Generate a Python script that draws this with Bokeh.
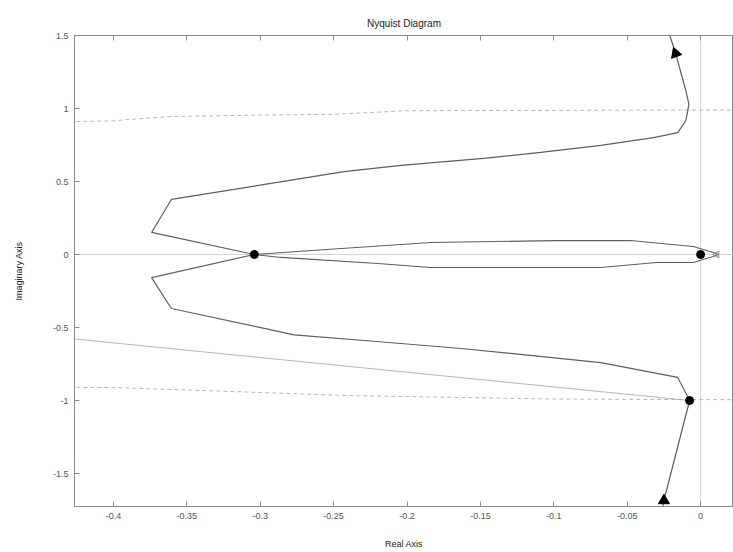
from bokeh.plotting import figure
from bokeh.models import Range1d, LinearAxis, FixedTicker, Span
from bokeh.embed import file_html
from bokeh.resources import INLINE

# Axis ticks
x_ticks = [-0.4, -0.35, -0.3, -0.25, -0.2, -0.15, -0.1, -0.05, 0.0]
x_tick_labels = ["-0.4", "-0.35", "-0.3", "-0.25", "-0.2", "-0.15", "-0.1", "-0.05", "0"]
y_ticks = [-1.5, -1.0, -0.5, 0.0, 0.5, 1.0, 1.5]
y_tick_labels = ["-1.5", "-1", "-0.5", "0", "0.5", "1", "1.5"]

# Main Nyquist branch (upper, positive imaginary)
upper_re = [-0.022, -0.021, -0.017, -0.010, -0.008, -0.010, -0.0156, -0.032, -0.068,
            -0.109, -0.148, -0.204, -0.243, -0.3605, -0.374, -0.304]
upper_im = [1.60, 1.50, 1.377, 1.12, 1.03, 0.918, 0.835, 0.80, 0.747,
            0.70, 0.658, 0.61, 0.568, 0.377, 0.151, 0.0]

# Main Nyquist branch (lower, negative imaginary)
lower_re = [-0.304, -0.374, -0.3605, -0.277, -0.229, -0.163, -0.068, -0.0156, -0.0075, -0.025, -0.027]
lower_im = [0.0, -0.158, -0.37, -0.55, -0.589, -0.644, -0.74, -0.842, -1.0, -1.685, -1.80]

# Inner lens loop
lens_up_re = [-0.304, -0.265, -0.184, -0.10, -0.048, -0.005, 0.008, 0.012]
lens_up_im = [0.0, 0.027, 0.082, 0.095, 0.096, 0.055, 0.015, 0.0]
lens_lo_re = [-0.304, -0.286, -0.22, -0.184, -0.068, -0.03, -0.005, 0.008, 0.012]
lens_lo_im = [0.0, -0.02, -0.062, -0.089, -0.089, -0.055, -0.055, -0.015, 0.0]

# Light guide lines
dash_up_re = [-0.43, -0.40, -0.39, -0.36, -0.30, -0.25, -0.20, 0.03]
dash_up_im = [0.91, 0.915, 0.925, 0.945, 0.955, 0.96, 0.985, 0.99]
dash_lo_re = [-0.43, -0.40, -0.30, -0.24, -0.10, 0.03]
dash_lo_im = [-0.91, -0.911, -0.945, -0.966, -0.99, -0.995]
slope_re = [-0.43, -0.0075]
slope_im = [-0.575, -1.0]

# Markers
dot_re = [-0.304, 0.0, -0.0075]
dot_im = [0.0, 0.0, -1.0]
arrow_re = [-0.017, -0.025]
arrow_im = [1.377, -1.685]
arrow_ang = [0.35, 0.0]
tip_re = [0.011]
tip_im = [0.0]

p = figure(width=733, height=552, output_backend="svg", toolbar_location=None,
           x_range=Range1d(-0.4265, 0.0224), y_range=Range1d(-1.726, 1.5),
           min_border_left=74, min_border_right=0, min_border_top=35, min_border_bottom=46,
           title="Nyquist Diagram")
p.grid.visible = False
p.background_fill_color = "white"
p.border_fill_color = "white"
p.outline_line_color = "#8a8a8a"
p.outline_line_width = 1

p.title.align = "center"
p.title.text_font = "Liberation Sans"
p.title.text_font_size = "10px"
p.title.text_font_style = "normal"
p.title.text_color = "#222222"
p.title.standoff = 13

for ax in (p.xaxis[0], p.yaxis[0]):
    ax.major_tick_in = 5
    ax.major_tick_out = 0
    ax.minor_tick_line_color = None
    ax.axis_line_color = "#8a8a8a"
    ax.major_tick_line_color = "#8a8a8a"
    ax.major_label_text_font = "Liberation Sans"
    ax.major_label_text_font_size = "9px"
    ax.major_label_text_color = "#555555"
    ax.axis_label_text_font = "Liberation Sans"
    ax.axis_label_text_font_size = "9px"
    ax.axis_label_text_font_style = "normal"
    ax.axis_label_text_color = "#222222"

p.xaxis[0].ticker = FixedTicker(ticks=x_ticks)
p.xaxis[0].major_label_overrides = dict(zip(x_ticks, x_tick_labels))
p.xaxis[0].axis_label = "Real Axis"
p.xaxis[0].major_label_standoff = 6
p.xaxis[0].axis_label_standoff = 17
p.yaxis[0].ticker = FixedTicker(ticks=y_ticks)
p.yaxis[0].major_label_overrides = dict(zip(y_ticks, y_tick_labels))
p.yaxis[0].axis_label = "Imaginary Axis"
p.yaxis[0].major_label_standoff = 6
p.yaxis[0].axis_label_standoff = 26

top = LinearAxis(ticker=FixedTicker(ticks=x_ticks), major_tick_in=5, major_tick_out=0,
                 minor_tick_line_color=None, axis_line_color="#8a8a8a",
                 major_tick_line_color="#8a8a8a",
                 major_label_overrides={t: "" for t in x_ticks},
                 major_label_standoff=0)
p.add_layout(top, "above")

# zero lines
p.add_layout(Span(location=0, dimension="height", line_color="#d4d4d4", line_width=1, level="underlay"))
p.add_layout(Span(location=0, dimension="width", line_color="#d4d4d4", line_width=1, level="underlay"))

p.line(dash_up_re, dash_up_im, line_color="#b8b8b8", line_dash="4 3", line_width=1)
p.line(dash_lo_re, dash_lo_im, line_color="#b8b8b8", line_dash="4 3", line_width=1)
p.line(slope_re, slope_im, line_color="#b4b4b4", line_width=1)

curve_col = "#5e5e5e"
p.line(upper_re, upper_im, line_color=curve_col, line_width=1.2)
p.line(lower_re, lower_im, line_color=curve_col, line_width=1.2)
p.line(lens_up_re, lens_up_im, line_color=curve_col, line_width=1.1)
p.line(lens_lo_re, lens_lo_im, line_color=curve_col, line_width=1.1)

p.scatter(dot_re, dot_im, marker="circle", size=8, fill_color="black", line_color="black")
p.scatter(arrow_re, arrow_im, marker="triangle", size=11, angle=arrow_ang,
          fill_color="black", line_color="black")
p.scatter(tip_re, tip_im, marker="triangle", size=7, angle=1.5708,
          fill_color=None, line_color="#888888")

open("out.html", "w").write(file_html(p, INLINE))
